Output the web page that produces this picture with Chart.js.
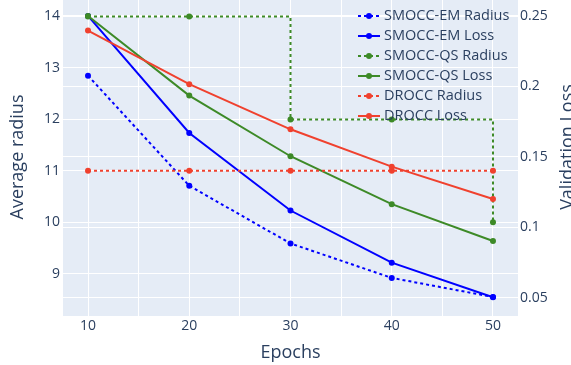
<!DOCTYPE html>
<html>
<head>
<meta charset="utf-8">
<script src="https://cdn.jsdelivr.net/npm/chart.js@4.4.0/dist/chart.umd.min.js"></script>
<style>
html, body { margin: 0; padding: 0; background: #fff; }
</style>
</head>
<body>
<canvas id="chart" width="571" height="365"></canvas>
<script>
var epochs = [10, 20, 30, 40, 50];
var smoccEmRadius = [12.85, 10.71, 9.59, 8.92, 8.55];
var smoccEmLoss = [0.25, 0.167, 0.112, 0.075, 0.0505];
var smoccQsRadius = [14, 14, 12, 12, 10];
var smoccQsLoss = [0.25, 0.1935, 0.1505, 0.1165, 0.0904];
var droccRadius = [11, 11, 11, 11, 11];
var droccLoss = [0.2396, 0.2016, 0.1696, 0.1431, 0.1202];

var xTicks = [10, 15, 20, 25, 30, 35, 40, 45, 50];
var radiusTicks = [9, 10, 11, 12, 13, 14];
var lossTicks = [0.05, 0.1, 0.15, 0.2, 0.25];

var blue = '#0000ff';
var green = '#3d8a27';
var red = '#f0412e';
var textColor = '#2a3f5f';
var fontFamily = '"Open Sans", verdana, arial, sans-serif';

Chart.defaults.font.family = fontFamily;
Chart.defaults.font.size = 14;
Chart.defaults.color = textColor;

function pts(ys) {
    return epochs.map(function (x, i) { return { x: x, y: ys[i] }; });
}

function series(label, ys, color, dotted, axis, order, stepped) {
    return {
        label: label,
        data: pts(ys),
        yAxisID: axis,
        borderColor: color,
        backgroundColor: color,
        borderWidth: 2,
        borderDash: dotted ? [3, 3] : [],
        pointRadius: 3,
        pointBorderWidth: 0,
        pointBackgroundColor: color,
        stepped: stepped || false,
        tension: 0,
        order: order,
        fill: false
    };
}

var datasets = [
    series('SMOCC-EM Radius', smoccEmRadius, blue, true, 'yR', 6),
    series('SMOCC-EM Loss', smoccEmLoss, blue, false, 'yL', 5),
    series('SMOCC-QS Radius', smoccQsRadius, green, true, 'yR', 4, true),
    series('SMOCC-QS Loss', smoccQsLoss, green, false, 'yL', 3),
    series('DROCC Radius', droccRadius, red, true, 'yR', 2),
    series('DROCC Loss', droccLoss, red, false, 'yL', 1)
];

var plotBg = {
    id: 'plotBg',
    beforeDraw: function (chart) {
        var a = chart.chartArea, ctx = chart.ctx;
        ctx.save();
        ctx.fillStyle = '#e5ecf6';
        ctx.fillRect(a.left, a.top, a.right - a.left, a.bottom - a.top);
        ctx.restore();
    }
};

var extras = {
    id: 'extras',
    afterDraw: function (chart) {
        var ctx = chart.ctx;
        ctx.save();
        ctx.fillStyle = textColor;
        ctx.font = '18px ' + fontFamily;

        // axis titles
        ctx.textAlign = 'center';
        ctx.textBaseline = 'alphabetic';
        ctx.fillText('Epochs', 290.5, 358);

        ctx.save();
        ctx.translate(23, 157);
        ctx.rotate(-Math.PI / 2);
        ctx.fillText('Average radius', 0, 0);
        ctx.restore();

        ctx.save();
        ctx.translate(573, 147);
        ctx.rotate(-Math.PI / 2);
        ctx.fillText('Validation Loss', 0, 0);
        ctx.restore();

        // legend inside plot, transparent background
        ctx.font = '14.5px ' + fontFamily;
        ctx.textAlign = 'left';
        ctx.textBaseline = 'middle';
        chart.data.datasets.forEach(function (ds, i) {
            var y = 16 + i * 20;
            ctx.strokeStyle = ds.borderColor;
            ctx.lineWidth = 2;
            ctx.setLineDash(ds.borderDash);
            ctx.beginPath();
            ctx.moveTo(358, y);
            ctx.lineTo(380, y);
            ctx.stroke();
            ctx.setLineDash([]);
            ctx.fillStyle = ds.borderColor;
            ctx.beginPath();
            ctx.arc(369, y, 3, 0, Math.PI * 2);
            ctx.fill();
            ctx.fillStyle = textColor;
            ctx.fillText(ds.label, 384, y);
        });
        ctx.restore();
    }
};

function setTicks(list) {
    return function (axis) {
        axis.ticks = list.map(function (v) { return { value: v }; });
    };
}

var gridOpts = { color: '#ffffff', lineWidth: 1, drawTicks: false };

var chart = new Chart(document.getElementById('chart'), {
    type: 'line',
    data: { datasets: datasets },
    options: {
        responsive: false,
        animation: false,
        layout: { padding: 0, autoPadding: false },
        plugins: {
            legend: { display: false },
            tooltip: { enabled: false }
        },
        scales: {
            x: {
                type: 'linear',
                min: 7.53,
                max: 52.47,
                afterBuildTicks: setTicks(xTicks),
                afterFit: function (s) {
                    s.height = 49;
                    s.paddingLeft = 0;
                    s.paddingRight = 0;
                },
                grid: gridOpts,
                border: { display: false },
                ticks: {
                    padding: 2,
                    maxRotation: 0,
                    autoSkip: false,
                    callback: function (v) { return v % 10 === 0 ? String(v) : ''; }
                }
            },
            yR: {
                type: 'linear',
                position: 'left',
                min: 8.18,
                max: 14.32,
                afterBuildTicks: setTicks(radiusTicks),
                afterFit: function (s) {
                    s.width = 63;
                    s.paddingTop = 0;
                    s.paddingBottom = 0;
                },
                grid: gridOpts,
                border: { display: false },
                ticks: {
                    padding: 3,
                    callback: function (v) { return String(v); }
                }
            },
            yL: {
                type: 'linear',
                position: 'right',
                min: 0.0372,
                max: 0.2613,
                afterBuildTicks: setTicks(lossTicks),
                afterFit: function (s) {
                    s.width = 53;
                    s.paddingTop = 0;
                    s.paddingBottom = 0;
                },
                grid: gridOpts,
                border: { display: false },
                ticks: {
                    padding: 2,
                    callback: function (v) { return String(v); }
                }
            }
        }
    },
    plugins: [plotBg, extras]
});
</script>
</body>
</html>
